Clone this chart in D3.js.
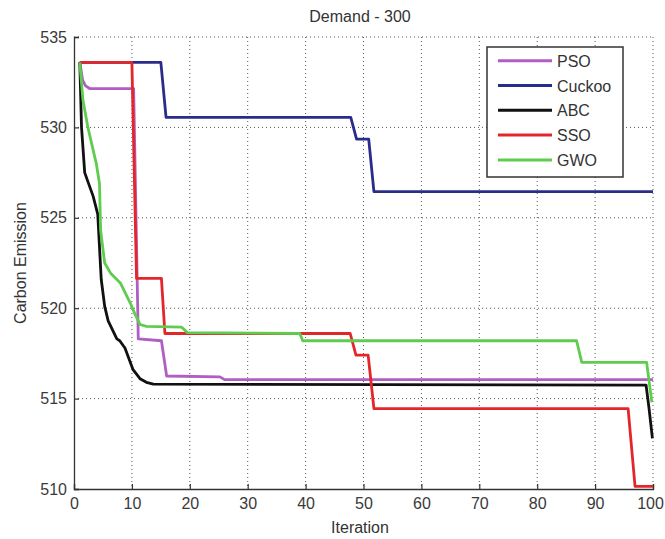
<!DOCTYPE html>
<html>
<head>
<meta charset="utf-8">
<script src="https://cdn.jsdelivr.net/npm/d3@7"></script>
<style>
  html, body { margin: 0; padding: 0; background: #fff; }
  svg { display: block; font-family: "Liberation Sans", Arial, sans-serif; }
</style>
</head>
<body>
<script>
// ---- data ----
const title = "Demand - 300";
const xLabel = "Iteration";
const yLabel = "Carbon Emission";
const xTicks = [0, 10, 20, 30, 40, 50, 60, 70, 80, 90, 100];
const yTicks = [510, 515, 520, 525, 530, 535];
const seriesNames = ["PSO", "Cuckoo", "ABC", "SSO", "GWO"];
const seriesColors = ["#b05ec4", "#2a2c8c", "#111111", "#e4262a", "#5fcc4f"];

const psoIter = [1, 1.5, 2, 2.7, 10.3, 11.1, 15.1, 16.0, 25.2, 26, 100];
const psoVal  = [533.6, 532.6, 532.3, 532.15, 532.15, 518.3, 518.2, 516.25, 516.2, 516.05, 516.05];

const cuckooIter = [1, 15.0, 15.9, 47.8, 48.8, 50.9, 51.8, 100];
const cuckooVal  = [533.6, 533.6, 530.55, 530.55, 529.35, 529.35, 526.45, 526.45];

const abcIter = [1, 1.3, 1.85, 2.4, 3.3, 4.1, 4.4, 4.7, 5.3, 5.9, 7.4, 7.9, 8.8, 10.2, 11.4, 12.5, 13.7, 98.8, 99.3, 99.9];
const abcVal  = [533.6, 530.0, 527.5, 527.0, 526.2, 525.2, 523.4, 521.6, 520.1, 519.3, 518.3, 518.2, 517.8, 516.6, 516.1, 515.9, 515.8, 515.75, 514.5, 512.8];

const ssoIter = [1, 10.0, 10.8, 15.1, 15.7, 47.7, 48.7, 50.8, 51.8, 95.7, 96.9, 100];
const ssoVal  = [533.6, 533.6, 521.65, 521.65, 518.6, 518.6, 517.4, 517.4, 514.45, 514.45, 510.15, 510.15];

const gwoIter = [1, 1.55, 2.4, 3.85, 4.4, 4.6, 5.3, 6.4, 8.0, 9.7, 10.5, 11.4, 12.5, 18.6, 19.6, 39.0, 39.5, 86.8, 87.7, 98.9, 99.8];
const gwoVal  = [533.6, 531.5, 530.0, 528.0, 526.9, 524.3, 522.5, 521.9, 521.4, 520.3, 519.7, 519.1, 519.0, 518.95, 518.65, 518.6, 518.2, 518.2, 517.0, 517.0, 514.8];

const seriesIters = [psoIter, cuckooIter, abcIter, ssoIter, gwoIter];
const seriesVals  = [psoVal, cuckooVal, abcVal, ssoVal, gwoVal];

// ---- layout ----
const W = 665, H = 539;
const plot = { left: 74, right: 653, top: 37, bottom: 489 };

const svg = d3.select("body").append("svg").attr("width", W).attr("height", H);

const x = d3.scaleLinear().domain([0, 100]).range([plot.left, plot.right]);
const y = d3.scaleLinear().domain([510, 535]).range([plot.bottom, plot.top]);

// grid
const grid = svg.append("g").attr("stroke", "#555").attr("stroke-width", 1)
  .attr("stroke-dasharray", "1,3").attr("fill", "none");
xTicks.forEach(t => {
  if (t === 0) return;
  grid.append("line").attr("x1", x(t)).attr("x2", x(t)).attr("y1", plot.top).attr("y2", plot.bottom);
});
yTicks.forEach(t => {
  if (t === 510) return;
  grid.append("line").attr("x1", plot.left).attr("x2", plot.right).attr("y1", y(t)).attr("y2", y(t));
});

// axes
const xAxis = d3.axisBottom(x).tickValues(xTicks).tickSize(-5).tickPadding(9).tickFormat(d3.format("d"));
const yAxis = d3.axisLeft(y).tickValues(yTicks).tickSize(-5).tickPadding(7).tickFormat(d3.format("d"));

const gx = svg.append("g").attr("transform", `translate(0,${plot.bottom})`).call(xAxis);
const gy = svg.append("g").attr("transform", `translate(${plot.left},0)`).call(yAxis);
[gx, gy].forEach(g => {
  g.select(".domain").attr("stroke", "#333").attr("stroke-width", 1.3);
  g.selectAll(".tick line").attr("stroke", "#333").attr("stroke-width", 1.2);
  g.selectAll(".tick text").attr("fill", "#3a3a3a").style("font-size", "16px")
    .style("font-family", "'Liberation Sans', Arial, sans-serif");
});
// keep the last x label inside the page
gx.selectAll(".tick text").filter(d => d === 100).attr("dx", -3);

// lines
const line = d3.line().x(d => x(d[0])).y(d => y(d[1]));
seriesNames.forEach((name, i) => {
  const pts = seriesIters[i].map((it, k) => [it, seriesVals[i][k]]);
  svg.append("path").datum(pts)
    .attr("fill", "none")
    .attr("stroke", seriesColors[i])
    .attr("stroke-width", 2.8)
    .attr("stroke-linejoin", "round")
    .attr("d", line);
});

// title & labels
svg.append("text").attr("x", 360).attr("y", 22).attr("text-anchor", "middle")
  .attr("fill", "#333").style("font-size", "16px").text(title);
svg.append("text").attr("x", 360).attr("y", 533).attr("text-anchor", "middle")
  .attr("fill", "#333").style("font-size", "16px").text(xLabel);
svg.append("text").attr("transform", "translate(26,263) rotate(-90)").attr("text-anchor", "middle")
  .attr("fill", "#333").style("font-size", "16px").text(yLabel);

// legend
const lg = svg.append("g");
lg.append("rect").attr("x", 487).attr("y", 47).attr("width", 136).attr("height", 130)
  .attr("fill", "#fff").attr("stroke", "#333").attr("stroke-width", 1.5);
seriesNames.forEach((name, i) => {
  const cy = 60.7 + i * 24.8;
  lg.append("line").attr("x1", 498).attr("x2", 552).attr("y1", cy).attr("y2", cy)
    .attr("stroke", seriesColors[i]).attr("stroke-width", 3);
  lg.append("text").attr("x", 557).attr("y", cy + 6).attr("fill", "#333")
    .style("font-size", "16px").text(name);
});
</script>
</body>
</html>
